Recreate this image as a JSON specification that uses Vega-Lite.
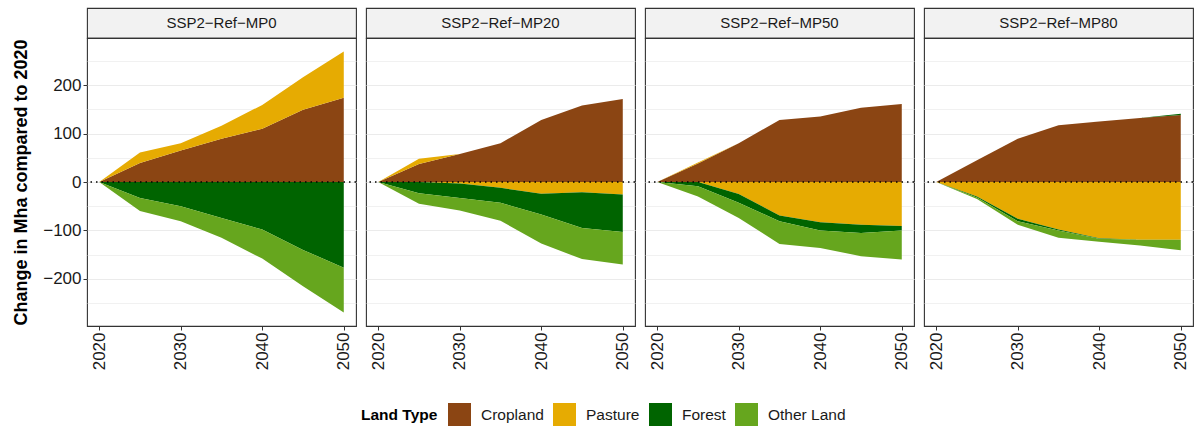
{
  "$schema": "https://vega.github.io/schema/vega-lite/v6.json",
  "autosize": {"type": "pad"},
  "padding": {"left": 12, "top": 7, "right": 0, "bottom": 0},
  "background": "white",
  "datasets": {
    "panels": [
      {"scenario": "SSP2-Ref-MP0", "label": "SSP2−Ref−MP0"},
      {"scenario": "SSP2-Ref-MP20", "label": "SSP2−Ref−MP20"},
      {"scenario": "SSP2-Ref-MP50", "label": "SSP2−Ref−MP50"},
      {"scenario": "SSP2-Ref-MP80", "label": "SSP2−Ref−MP80"}
    ],
    "land": [
      {"scenario": "SSP2-Ref-MP0", "year": 2020, "type": "Cropland", "change": 0},
      {"scenario": "SSP2-Ref-MP0", "year": 2025, "type": "Cropland", "change": 39},
      {"scenario": "SSP2-Ref-MP0", "year": 2030, "type": "Cropland", "change": 65},
      {"scenario": "SSP2-Ref-MP0", "year": 2035, "type": "Cropland", "change": 89},
      {"scenario": "SSP2-Ref-MP0", "year": 2040, "type": "Cropland", "change": 110},
      {"scenario": "SSP2-Ref-MP0", "year": 2045, "type": "Cropland", "change": 149},
      {"scenario": "SSP2-Ref-MP0", "year": 2050, "type": "Cropland", "change": 174},
      {"scenario": "SSP2-Ref-MP0", "year": 2020, "type": "Pasture", "change": 0},
      {"scenario": "SSP2-Ref-MP0", "year": 2025, "type": "Pasture", "change": 22},
      {"scenario": "SSP2-Ref-MP0", "year": 2030, "type": "Pasture", "change": 15},
      {"scenario": "SSP2-Ref-MP0", "year": 2035, "type": "Pasture", "change": 27},
      {"scenario": "SSP2-Ref-MP0", "year": 2040, "type": "Pasture", "change": 49},
      {"scenario": "SSP2-Ref-MP0", "year": 2045, "type": "Pasture", "change": 67},
      {"scenario": "SSP2-Ref-MP0", "year": 2050, "type": "Pasture", "change": 95},
      {"scenario": "SSP2-Ref-MP0", "year": 2020, "type": "Forest", "change": 0},
      {"scenario": "SSP2-Ref-MP0", "year": 2025, "type": "Forest", "change": -33},
      {"scenario": "SSP2-Ref-MP0", "year": 2030, "type": "Forest", "change": -50},
      {"scenario": "SSP2-Ref-MP0", "year": 2035, "type": "Forest", "change": -74},
      {"scenario": "SSP2-Ref-MP0", "year": 2040, "type": "Forest", "change": -98},
      {"scenario": "SSP2-Ref-MP0", "year": 2045, "type": "Forest", "change": -140},
      {"scenario": "SSP2-Ref-MP0", "year": 2050, "type": "Forest", "change": -177},
      {"scenario": "SSP2-Ref-MP0", "year": 2020, "type": "Other Land", "change": 0},
      {"scenario": "SSP2-Ref-MP0", "year": 2025, "type": "Other Land", "change": -27},
      {"scenario": "SSP2-Ref-MP0", "year": 2030, "type": "Other Land", "change": -31},
      {"scenario": "SSP2-Ref-MP0", "year": 2035, "type": "Other Land", "change": -41},
      {"scenario": "SSP2-Ref-MP0", "year": 2040, "type": "Other Land", "change": -60},
      {"scenario": "SSP2-Ref-MP0", "year": 2045, "type": "Other Land", "change": -75},
      {"scenario": "SSP2-Ref-MP0", "year": 2050, "type": "Other Land", "change": -92},

      {"scenario": "SSP2-Ref-MP20", "year": 2020, "type": "Cropland", "change": 0},
      {"scenario": "SSP2-Ref-MP20", "year": 2025, "type": "Cropland", "change": 37},
      {"scenario": "SSP2-Ref-MP20", "year": 2030, "type": "Cropland", "change": 58},
      {"scenario": "SSP2-Ref-MP20", "year": 2035, "type": "Cropland", "change": 80},
      {"scenario": "SSP2-Ref-MP20", "year": 2040, "type": "Cropland", "change": 128},
      {"scenario": "SSP2-Ref-MP20", "year": 2045, "type": "Cropland", "change": 158},
      {"scenario": "SSP2-Ref-MP20", "year": 2050, "type": "Cropland", "change": 171},
      {"scenario": "SSP2-Ref-MP20", "year": 2020, "type": "Pasture", "change": 0},
      {"scenario": "SSP2-Ref-MP20", "year": 2025, "type": "Pasture", "change": 11},
      {"scenario": "SSP2-Ref-MP20", "year": 2030, "type": "Pasture", "change": -3},
      {"scenario": "SSP2-Ref-MP20", "year": 2035, "type": "Pasture", "change": -12},
      {"scenario": "SSP2-Ref-MP20", "year": 2040, "type": "Pasture", "change": -24},
      {"scenario": "SSP2-Ref-MP20", "year": 2045, "type": "Pasture", "change": -21},
      {"scenario": "SSP2-Ref-MP20", "year": 2050, "type": "Pasture", "change": -26},
      {"scenario": "SSP2-Ref-MP20", "year": 2020, "type": "Forest", "change": 0},
      {"scenario": "SSP2-Ref-MP20", "year": 2025, "type": "Forest", "change": -23},
      {"scenario": "SSP2-Ref-MP20", "year": 2030, "type": "Forest", "change": -30},
      {"scenario": "SSP2-Ref-MP20", "year": 2035, "type": "Forest", "change": -31},
      {"scenario": "SSP2-Ref-MP20", "year": 2040, "type": "Forest", "change": -43},
      {"scenario": "SSP2-Ref-MP20", "year": 2045, "type": "Forest", "change": -74},
      {"scenario": "SSP2-Ref-MP20", "year": 2050, "type": "Forest", "change": -77},
      {"scenario": "SSP2-Ref-MP20", "year": 2020, "type": "Other Land", "change": 0},
      {"scenario": "SSP2-Ref-MP20", "year": 2025, "type": "Other Land", "change": -22},
      {"scenario": "SSP2-Ref-MP20", "year": 2030, "type": "Other Land", "change": -26},
      {"scenario": "SSP2-Ref-MP20", "year": 2035, "type": "Other Land", "change": -37},
      {"scenario": "SSP2-Ref-MP20", "year": 2040, "type": "Other Land", "change": -60},
      {"scenario": "SSP2-Ref-MP20", "year": 2045, "type": "Other Land", "change": -64},
      {"scenario": "SSP2-Ref-MP20", "year": 2050, "type": "Other Land", "change": -67},

      {"scenario": "SSP2-Ref-MP50", "year": 2020, "type": "Cropland", "change": 0},
      {"scenario": "SSP2-Ref-MP50", "year": 2025, "type": "Cropland", "change": 38},
      {"scenario": "SSP2-Ref-MP50", "year": 2030, "type": "Cropland", "change": 80},
      {"scenario": "SSP2-Ref-MP50", "year": 2035, "type": "Cropland", "change": 128},
      {"scenario": "SSP2-Ref-MP50", "year": 2040, "type": "Cropland", "change": 135},
      {"scenario": "SSP2-Ref-MP50", "year": 2045, "type": "Cropland", "change": 153},
      {"scenario": "SSP2-Ref-MP50", "year": 2050, "type": "Cropland", "change": 161},
      {"scenario": "SSP2-Ref-MP50", "year": 2020, "type": "Pasture", "change": 0},
      {"scenario": "SSP2-Ref-MP50", "year": 2025, "type": "Pasture", "change": 2},
      {"scenario": "SSP2-Ref-MP50", "year": 2030, "type": "Pasture", "change": -25},
      {"scenario": "SSP2-Ref-MP50", "year": 2035, "type": "Pasture", "change": -69},
      {"scenario": "SSP2-Ref-MP50", "year": 2040, "type": "Pasture", "change": -83},
      {"scenario": "SSP2-Ref-MP50", "year": 2045, "type": "Pasture", "change": -88},
      {"scenario": "SSP2-Ref-MP50", "year": 2050, "type": "Pasture", "change": -91},
      {"scenario": "SSP2-Ref-MP50", "year": 2020, "type": "Forest", "change": 0},
      {"scenario": "SSP2-Ref-MP50", "year": 2025, "type": "Forest", "change": -9},
      {"scenario": "SSP2-Ref-MP50", "year": 2030, "type": "Forest", "change": -18},
      {"scenario": "SSP2-Ref-MP50", "year": 2035, "type": "Forest", "change": -12},
      {"scenario": "SSP2-Ref-MP50", "year": 2040, "type": "Forest", "change": -17},
      {"scenario": "SSP2-Ref-MP50", "year": 2045, "type": "Forest", "change": -17},
      {"scenario": "SSP2-Ref-MP50", "year": 2050, "type": "Forest", "change": -9},
      {"scenario": "SSP2-Ref-MP50", "year": 2020, "type": "Other Land", "change": 0},
      {"scenario": "SSP2-Ref-MP50", "year": 2025, "type": "Other Land", "change": -21},
      {"scenario": "SSP2-Ref-MP50", "year": 2030, "type": "Other Land", "change": -31},
      {"scenario": "SSP2-Ref-MP50", "year": 2035, "type": "Other Land", "change": -47},
      {"scenario": "SSP2-Ref-MP50", "year": 2040, "type": "Other Land", "change": -36},
      {"scenario": "SSP2-Ref-MP50", "year": 2045, "type": "Other Land", "change": -48},
      {"scenario": "SSP2-Ref-MP50", "year": 2050, "type": "Other Land", "change": -60},

      {"scenario": "SSP2-Ref-MP80", "year": 2020, "type": "Cropland", "change": 0},
      {"scenario": "SSP2-Ref-MP80", "year": 2025, "type": "Cropland", "change": 45},
      {"scenario": "SSP2-Ref-MP80", "year": 2030, "type": "Cropland", "change": 89},
      {"scenario": "SSP2-Ref-MP80", "year": 2035, "type": "Cropland", "change": 117},
      {"scenario": "SSP2-Ref-MP80", "year": 2040, "type": "Cropland", "change": 125},
      {"scenario": "SSP2-Ref-MP80", "year": 2045, "type": "Cropland", "change": 132},
      {"scenario": "SSP2-Ref-MP80", "year": 2050, "type": "Cropland", "change": 138},
      {"scenario": "SSP2-Ref-MP80", "year": 2020, "type": "Pasture", "change": 0},
      {"scenario": "SSP2-Ref-MP80", "year": 2025, "type": "Pasture", "change": -30},
      {"scenario": "SSP2-Ref-MP80", "year": 2030, "type": "Pasture", "change": -76},
      {"scenario": "SSP2-Ref-MP80", "year": 2035, "type": "Pasture", "change": -98},
      {"scenario": "SSP2-Ref-MP80", "year": 2040, "type": "Pasture", "change": -116},
      {"scenario": "SSP2-Ref-MP80", "year": 2045, "type": "Pasture", "change": -119},
      {"scenario": "SSP2-Ref-MP80", "year": 2050, "type": "Pasture", "change": -119},
      {"scenario": "SSP2-Ref-MP80", "year": 2020, "type": "Forest", "change": 0},
      {"scenario": "SSP2-Ref-MP80", "year": 2025, "type": "Forest", "change": -2},
      {"scenario": "SSP2-Ref-MP80", "year": 2030, "type": "Forest", "change": -5},
      {"scenario": "SSP2-Ref-MP80", "year": 2035, "type": "Forest", "change": -2},
      {"scenario": "SSP2-Ref-MP80", "year": 2040, "type": "Forest", "change": -1},
      {"scenario": "SSP2-Ref-MP80", "year": 2045, "type": "Forest", "change": 0},
      {"scenario": "SSP2-Ref-MP80", "year": 2050, "type": "Forest", "change": 3},
      {"scenario": "SSP2-Ref-MP80", "year": 2020, "type": "Other Land", "change": 0},
      {"scenario": "SSP2-Ref-MP80", "year": 2025, "type": "Other Land", "change": -3},
      {"scenario": "SSP2-Ref-MP80", "year": 2030, "type": "Other Land", "change": -7},
      {"scenario": "SSP2-Ref-MP80", "year": 2035, "type": "Other Land", "change": -15},
      {"scenario": "SSP2-Ref-MP80", "year": 2040, "type": "Other Land", "change": -6},
      {"scenario": "SSP2-Ref-MP80", "year": 2045, "type": "Other Land", "change": -12},
      {"scenario": "SSP2-Ref-MP80", "year": 2050, "type": "Other Land", "change": -22}
    ]
  },
  "data": {"name": "land"},
  "spacing": 6,
  "resolve": {"scale": {"color": "shared"}, "legend": {"color": "shared"}},
  "hconcat": [
    {
      "bounds": "flush",
      "spacing": 0,
      "vconcat": [
        {
          "width": 269, "height": 30,
          "data": {"name": "panels"},
          "transform": [{"filter": "datum.scenario === 'SSP2-Ref-MP0'"}],
          "mark": {"type": "text", "fontSize": 15, "color": "#1A1A1A"},
          "encoding": {"text": {"field": "label"}},
          "view": {"fill": "#F2F2F2", "stroke": "#333333", "strokeWidth": 1.1}
        },
        {
          "width": 269, "height": 288,
          "view": {"stroke": "#333333", "strokeWidth": 1.1},
          "transform": [
            {"filter": "datum.scenario === 'SSP2-Ref-MP0'"},
            {"calculate": "indexof(['Cropland','Pasture','Forest','Other Land'], datum.type)", "as": "stackRank"},
            {"calculate": "max(datum.change, 0)", "as": "gain"},
            {"calculate": "min(datum.change, -0.000001)", "as": "loss"}
          ],
          "resolve": {"scale": {"y": "independent"}, "axis": {"y": "independent"}},
          "layer": [
            {
              "mark": {"type": "area"},
              "encoding": {
                "x": {"field": "year", "type": "quantitative", "scale": {"domain": [2018.5, 2051.5], "nice": false, "zero": false},
                      "axis": {"values": [2020, 2030, 2040, 2050], "format": "d", "labelAngle": -90, "grid": false, "domain": false, "tickSize": 4, "tickColor": "#333333", "labelFontSize": 17, "labelColor": "#1A1A1A", "labelPadding": 2, "labelFlush": false, "title": null}},
                "y": {"field": "gain", "type": "quantitative", "stack": "zero", "scale": {"domain": [-297, 297], "nice": false},
                      "axis": {"orient": "left", "values": [-200, -100, 0, 100, 200], "labelOverlap": false, "labelFlush": false, "domain": false, "tickSize": 4, "tickColor": "#333333",
                               "gridColor": "#EBEBEB", "gridWidth": 1.1,
                               "labelFontSize": 17, "labelColor": "#1A1A1A", "labelPadding": 2,
                               "title": "Change in Mha compared to 2020", "titleFontSize": 18, "titleFontWeight": "bold", "titleColor": "#000000", "titlePadding": 12}},
                "color": {"field": "type", "type": "nominal",
                          "scale": {"domain": ["Cropland", "Pasture", "Forest", "Other Land"], "range": ["#8B4513", "#E6AB02", "#006400", "#66A61E"]},
                          "legend": {"title": "Land Type", "orient": "none", "legendX": 274, "legendY": 395, "direction": "horizontal", "titleOrient": "left", "symbolType": "square", "symbolSize": 529, "symbolStrokeWidth": 0, "symbolOpacity": 1, "labelFontSize": 15.5, "labelColor": "#1A1A1A", "titleFontSize": 15.5, "titleFontWeight": "bold", "titleColor": "#000000", "labelOffset": 10, "columnPadding": 9, "titlePadding": 10, "padding": 0}},
                "order": {"field": "stackRank", "type": "quantitative"}
              }
            },
            {
              "mark": {"type": "area"},
              "encoding": {
                "x": {"field": "year", "type": "quantitative", "scale": {"domain": [2018.5, 2051.5], "nice": false, "zero": false},
                      "axis": {"values": [2020, 2030, 2040, 2050], "format": "d", "labelAngle": -90, "grid": false, "domain": false, "tickSize": 4, "tickColor": "#333333", "labelFontSize": 17, "labelColor": "#1A1A1A", "labelPadding": 2, "labelFlush": false, "title": null}},
                "y": {"field": "loss", "type": "quantitative", "stack": "zero", "scale": {"domain": [-297, 297], "nice": false}, "axis": null},
                "color": {"field": "type", "type": "nominal",
                          "scale": {"domain": ["Cropland", "Pasture", "Forest", "Other Land"], "range": ["#8B4513", "#E6AB02", "#006400", "#66A61E"]},
                          "legend": {"title": "Land Type", "orient": "none", "legendX": 274, "legendY": 395, "direction": "horizontal", "titleOrient": "left", "symbolType": "square", "symbolSize": 529, "symbolStrokeWidth": 0, "symbolOpacity": 1, "labelFontSize": 15.5, "labelColor": "#1A1A1A", "titleFontSize": 15.5, "titleFontWeight": "bold", "titleColor": "#000000", "labelOffset": 10, "columnPadding": 9, "titlePadding": 10, "padding": 0}},
                "order": {"field": "stackRank", "type": "quantitative"}
              }
            },
            {
              "transform": [{"filter": "datum.year === 2020 && datum.type === 'Cropland'"}],
              "mark": {"type": "rule", "color": "#000000", "strokeDash": [1.5, 4], "strokeWidth": 1.4},
              "encoding": {"y": {"datum": 0, "type": "quantitative", "scale": {"domain": [-297, 297], "nice": false},
                                 "axis": {"orient": "right", "values": [-250, -150, -50, 50, 150, 250], "labels": false, "ticks": false, "domain": false, "title": null, "grid": true, "gridColor": "#EBEBEB", "gridWidth": 0.7}}}
            }
          ]
        }
      ]
    },
    {
      "bounds": "flush",
      "spacing": 0,
      "vconcat": [
        {
          "width": 269, "height": 30,
          "data": {"name": "panels"},
          "transform": [{"filter": "datum.scenario === 'SSP2-Ref-MP20'"}],
          "mark": {"type": "text", "fontSize": 15, "color": "#1A1A1A"},
          "encoding": {"text": {"field": "label"}},
          "view": {"fill": "#F2F2F2", "stroke": "#333333", "strokeWidth": 1.1}
        },
        {
          "width": 269, "height": 288,
          "view": {"stroke": "#333333", "strokeWidth": 1.1},
          "transform": [
            {"filter": "datum.scenario === 'SSP2-Ref-MP20'"},
            {"calculate": "indexof(['Cropland','Pasture','Forest','Other Land'], datum.type)", "as": "stackRank"},
            {"calculate": "max(datum.change, 0)", "as": "gain"},
            {"calculate": "min(datum.change, -0.000001)", "as": "loss"}
          ],
          "resolve": {"scale": {"y": "independent"}, "axis": {"y": "independent"}},
          "layer": [
            {
              "mark": {"type": "area"},
              "encoding": {
                "x": {"field": "year", "type": "quantitative", "scale": {"domain": [2018.5, 2051.5], "nice": false, "zero": false},
                      "axis": {"values": [2020, 2030, 2040, 2050], "format": "d", "labelAngle": -90, "grid": false, "domain": false, "tickSize": 4, "tickColor": "#333333", "labelFontSize": 17, "labelColor": "#1A1A1A", "labelPadding": 2, "labelFlush": false, "title": null}},
                "y": {"field": "gain", "type": "quantitative", "stack": "zero", "scale": {"domain": [-297, 297], "nice": false},
                      "axis": {"orient": "left", "values": [-200, -100, 0, 100, 200], "labels": false, "ticks": false, "domain": false, "title": null, "gridColor": "#EBEBEB", "gridWidth": 1.1}},
                "color": {"field": "type", "type": "nominal",
                          "scale": {"domain": ["Cropland", "Pasture", "Forest", "Other Land"], "range": ["#8B4513", "#E6AB02", "#006400", "#66A61E"]},
                          "legend": {"title": "Land Type", "orient": "none", "legendX": 274, "legendY": 395, "direction": "horizontal", "titleOrient": "left", "symbolType": "square", "symbolSize": 529, "symbolStrokeWidth": 0, "symbolOpacity": 1, "labelFontSize": 15.5, "labelColor": "#1A1A1A", "titleFontSize": 15.5, "titleFontWeight": "bold", "titleColor": "#000000", "labelOffset": 10, "columnPadding": 9, "titlePadding": 10, "padding": 0}},
                "order": {"field": "stackRank", "type": "quantitative"}
              }
            },
            {
              "mark": {"type": "area"},
              "encoding": {
                "x": {"field": "year", "type": "quantitative", "scale": {"domain": [2018.5, 2051.5], "nice": false, "zero": false},
                      "axis": {"values": [2020, 2030, 2040, 2050], "format": "d", "labelAngle": -90, "grid": false, "domain": false, "tickSize": 4, "tickColor": "#333333", "labelFontSize": 17, "labelColor": "#1A1A1A", "labelPadding": 2, "labelFlush": false, "title": null}},
                "y": {"field": "loss", "type": "quantitative", "stack": "zero", "scale": {"domain": [-297, 297], "nice": false}, "axis": null},
                "color": {"field": "type", "type": "nominal",
                          "scale": {"domain": ["Cropland", "Pasture", "Forest", "Other Land"], "range": ["#8B4513", "#E6AB02", "#006400", "#66A61E"]},
                          "legend": {"title": "Land Type", "orient": "none", "legendX": 274, "legendY": 395, "direction": "horizontal", "titleOrient": "left", "symbolType": "square", "symbolSize": 529, "symbolStrokeWidth": 0, "symbolOpacity": 1, "labelFontSize": 15.5, "labelColor": "#1A1A1A", "titleFontSize": 15.5, "titleFontWeight": "bold", "titleColor": "#000000", "labelOffset": 10, "columnPadding": 9, "titlePadding": 10, "padding": 0}},
                "order": {"field": "stackRank", "type": "quantitative"}
              }
            },
            {
              "transform": [{"filter": "datum.year === 2020 && datum.type === 'Cropland'"}],
              "mark": {"type": "rule", "color": "#000000", "strokeDash": [1.5, 4], "strokeWidth": 1.4},
              "encoding": {"y": {"datum": 0, "type": "quantitative", "scale": {"domain": [-297, 297], "nice": false},
                                 "axis": {"orient": "right", "values": [-250, -150, -50, 50, 150, 250], "labels": false, "ticks": false, "domain": false, "title": null, "grid": true, "gridColor": "#EBEBEB", "gridWidth": 0.7}}}
            }
          ]
        }
      ]
    },
    {
      "bounds": "flush",
      "spacing": 0,
      "vconcat": [
        {
          "width": 269, "height": 30,
          "data": {"name": "panels"},
          "transform": [{"filter": "datum.scenario === 'SSP2-Ref-MP50'"}],
          "mark": {"type": "text", "fontSize": 15, "color": "#1A1A1A"},
          "encoding": {"text": {"field": "label"}},
          "view": {"fill": "#F2F2F2", "stroke": "#333333", "strokeWidth": 1.1}
        },
        {
          "width": 269, "height": 288,
          "view": {"stroke": "#333333", "strokeWidth": 1.1},
          "transform": [
            {"filter": "datum.scenario === 'SSP2-Ref-MP50'"},
            {"calculate": "indexof(['Cropland','Pasture','Forest','Other Land'], datum.type)", "as": "stackRank"},
            {"calculate": "max(datum.change, 0)", "as": "gain"},
            {"calculate": "min(datum.change, -0.000001)", "as": "loss"}
          ],
          "resolve": {"scale": {"y": "independent"}, "axis": {"y": "independent"}},
          "layer": [
            {
              "mark": {"type": "area"},
              "encoding": {
                "x": {"field": "year", "type": "quantitative", "scale": {"domain": [2018.5, 2051.5], "nice": false, "zero": false},
                      "axis": {"values": [2020, 2030, 2040, 2050], "format": "d", "labelAngle": -90, "grid": false, "domain": false, "tickSize": 4, "tickColor": "#333333", "labelFontSize": 17, "labelColor": "#1A1A1A", "labelPadding": 2, "labelFlush": false, "title": null}},
                "y": {"field": "gain", "type": "quantitative", "stack": "zero", "scale": {"domain": [-297, 297], "nice": false},
                      "axis": {"orient": "left", "values": [-200, -100, 0, 100, 200], "labels": false, "ticks": false, "domain": false, "title": null, "gridColor": "#EBEBEB", "gridWidth": 1.1}},
                "color": {"field": "type", "type": "nominal",
                          "scale": {"domain": ["Cropland", "Pasture", "Forest", "Other Land"], "range": ["#8B4513", "#E6AB02", "#006400", "#66A61E"]},
                          "legend": {"title": "Land Type", "orient": "none", "legendX": 274, "legendY": 395, "direction": "horizontal", "titleOrient": "left", "symbolType": "square", "symbolSize": 529, "symbolStrokeWidth": 0, "symbolOpacity": 1, "labelFontSize": 15.5, "labelColor": "#1A1A1A", "titleFontSize": 15.5, "titleFontWeight": "bold", "titleColor": "#000000", "labelOffset": 10, "columnPadding": 9, "titlePadding": 10, "padding": 0}},
                "order": {"field": "stackRank", "type": "quantitative"}
              }
            },
            {
              "mark": {"type": "area"},
              "encoding": {
                "x": {"field": "year", "type": "quantitative", "scale": {"domain": [2018.5, 2051.5], "nice": false, "zero": false},
                      "axis": {"values": [2020, 2030, 2040, 2050], "format": "d", "labelAngle": -90, "grid": false, "domain": false, "tickSize": 4, "tickColor": "#333333", "labelFontSize": 17, "labelColor": "#1A1A1A", "labelPadding": 2, "labelFlush": false, "title": null}},
                "y": {"field": "loss", "type": "quantitative", "stack": "zero", "scale": {"domain": [-297, 297], "nice": false}, "axis": null},
                "color": {"field": "type", "type": "nominal",
                          "scale": {"domain": ["Cropland", "Pasture", "Forest", "Other Land"], "range": ["#8B4513", "#E6AB02", "#006400", "#66A61E"]},
                          "legend": {"title": "Land Type", "orient": "none", "legendX": 274, "legendY": 395, "direction": "horizontal", "titleOrient": "left", "symbolType": "square", "symbolSize": 529, "symbolStrokeWidth": 0, "symbolOpacity": 1, "labelFontSize": 15.5, "labelColor": "#1A1A1A", "titleFontSize": 15.5, "titleFontWeight": "bold", "titleColor": "#000000", "labelOffset": 10, "columnPadding": 9, "titlePadding": 10, "padding": 0}},
                "order": {"field": "stackRank", "type": "quantitative"}
              }
            },
            {
              "transform": [{"filter": "datum.year === 2020 && datum.type === 'Cropland'"}],
              "mark": {"type": "rule", "color": "#000000", "strokeDash": [1.5, 4], "strokeWidth": 1.4},
              "encoding": {"y": {"datum": 0, "type": "quantitative", "scale": {"domain": [-297, 297], "nice": false},
                                 "axis": {"orient": "right", "values": [-250, -150, -50, 50, 150, 250], "labels": false, "ticks": false, "domain": false, "title": null, "grid": true, "gridColor": "#EBEBEB", "gridWidth": 0.7}}}
            }
          ]
        }
      ]
    },
    {
      "bounds": "flush",
      "spacing": 0,
      "vconcat": [
        {
          "width": 269, "height": 30,
          "data": {"name": "panels"},
          "transform": [{"filter": "datum.scenario === 'SSP2-Ref-MP80'"}],
          "mark": {"type": "text", "fontSize": 15, "color": "#1A1A1A"},
          "encoding": {"text": {"field": "label"}},
          "view": {"fill": "#F2F2F2", "stroke": "#333333", "strokeWidth": 1.1}
        },
        {
          "width": 269, "height": 288,
          "view": {"stroke": "#333333", "strokeWidth": 1.1},
          "transform": [
            {"filter": "datum.scenario === 'SSP2-Ref-MP80'"},
            {"calculate": "indexof(['Cropland','Pasture','Forest','Other Land'], datum.type)", "as": "stackRank"},
            {"calculate": "max(datum.change, 0)", "as": "gain"},
            {"calculate": "min(datum.change, -0.000001)", "as": "loss"}
          ],
          "resolve": {"scale": {"y": "independent"}, "axis": {"y": "independent"}},
          "layer": [
            {
              "mark": {"type": "area"},
              "encoding": {
                "x": {"field": "year", "type": "quantitative", "scale": {"domain": [2018.5, 2051.5], "nice": false, "zero": false},
                      "axis": {"values": [2020, 2030, 2040, 2050], "format": "d", "labelAngle": -90, "grid": false, "domain": false, "tickSize": 4, "tickColor": "#333333", "labelFontSize": 17, "labelColor": "#1A1A1A", "labelPadding": 2, "labelFlush": false, "title": null}},
                "y": {"field": "gain", "type": "quantitative", "stack": "zero", "scale": {"domain": [-297, 297], "nice": false},
                      "axis": {"orient": "left", "values": [-200, -100, 0, 100, 200], "labels": false, "ticks": false, "domain": false, "title": null, "gridColor": "#EBEBEB", "gridWidth": 1.1}},
                "color": {"field": "type", "type": "nominal",
                          "scale": {"domain": ["Cropland", "Pasture", "Forest", "Other Land"], "range": ["#8B4513", "#E6AB02", "#006400", "#66A61E"]},
                          "legend": {"title": "Land Type", "orient": "none", "legendX": 274, "legendY": 395, "direction": "horizontal", "titleOrient": "left", "symbolType": "square", "symbolSize": 529, "symbolStrokeWidth": 0, "symbolOpacity": 1, "labelFontSize": 15.5, "labelColor": "#1A1A1A", "titleFontSize": 15.5, "titleFontWeight": "bold", "titleColor": "#000000", "labelOffset": 10, "columnPadding": 9, "titlePadding": 10, "padding": 0}},
                "order": {"field": "stackRank", "type": "quantitative"}
              }
            },
            {
              "mark": {"type": "area"},
              "encoding": {
                "x": {"field": "year", "type": "quantitative", "scale": {"domain": [2018.5, 2051.5], "nice": false, "zero": false},
                      "axis": {"values": [2020, 2030, 2040, 2050], "format": "d", "labelAngle": -90, "grid": false, "domain": false, "tickSize": 4, "tickColor": "#333333", "labelFontSize": 17, "labelColor": "#1A1A1A", "labelPadding": 2, "labelFlush": false, "title": null}},
                "y": {"field": "loss", "type": "quantitative", "stack": "zero", "scale": {"domain": [-297, 297], "nice": false}, "axis": null},
                "color": {"field": "type", "type": "nominal",
                          "scale": {"domain": ["Cropland", "Pasture", "Forest", "Other Land"], "range": ["#8B4513", "#E6AB02", "#006400", "#66A61E"]},
                          "legend": {"title": "Land Type", "orient": "none", "legendX": 274, "legendY": 395, "direction": "horizontal", "titleOrient": "left", "symbolType": "square", "symbolSize": 529, "symbolStrokeWidth": 0, "symbolOpacity": 1, "labelFontSize": 15.5, "labelColor": "#1A1A1A", "titleFontSize": 15.5, "titleFontWeight": "bold", "titleColor": "#000000", "labelOffset": 10, "columnPadding": 9, "titlePadding": 10, "padding": 0}},
                "order": {"field": "stackRank", "type": "quantitative"}
              }
            },
            {
              "transform": [{"filter": "datum.year === 2020 && datum.type === 'Cropland'"}],
              "mark": {"type": "rule", "color": "#000000", "strokeDash": [1.5, 4], "strokeWidth": 1.4},
              "encoding": {"y": {"datum": 0, "type": "quantitative", "scale": {"domain": [-297, 297], "nice": false},
                                 "axis": {"orient": "right", "values": [-250, -150, -50, 50, 150, 250], "labels": false, "ticks": false, "domain": false, "title": null, "grid": true, "gridColor": "#EBEBEB", "gridWidth": 0.7}}}
            }
          ]
        }
      ]
    }
  ],
  "config": {
    "font": "Liberation Sans",
    "axis": {"labelFont": "Liberation Sans", "titleFont": "Liberation Sans"},
    "legend": {"labelFont": "Liberation Sans", "titleFont": "Liberation Sans"},
    "text": {"font": "Liberation Sans"}
  }
}
